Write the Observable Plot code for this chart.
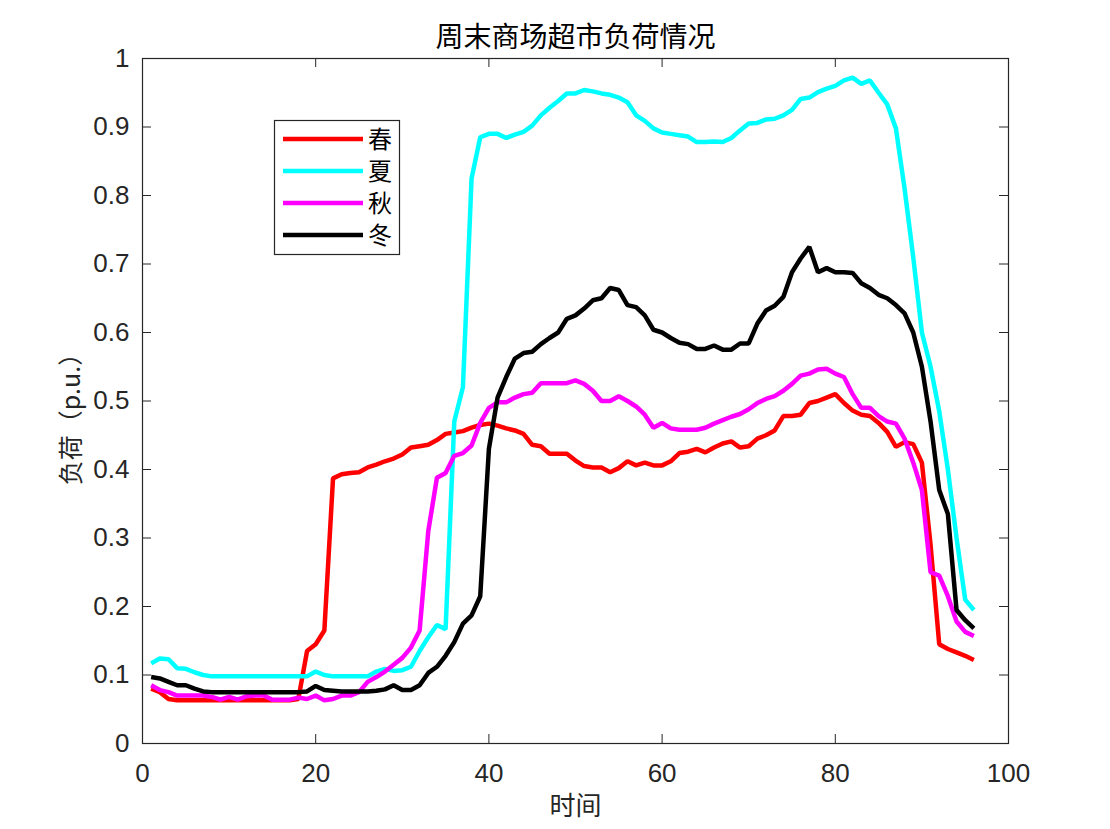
<!DOCTYPE html>
<html>
<head>
<meta charset="utf-8">
<script src="https://cdn.jsdelivr.net/npm/d3@7"></script>
<script src="https://cdn.jsdelivr.net/npm/@observablehq/plot@0.6"></script>
<style>
  html, body { margin: 0; padding: 0; background: #ffffff; overflow: hidden; }
</style>
</head>
<body>
<div id="chart"></div>
<script>
// ---- data ----
const chartTitle = "周末商场超市负荷情况";
const xLabel = "时间";
const yLabel = "负荷（p.u.）";
const seasons = ["春", "夏", "秋", "冬"];
const seasonColors = ["#ff0000", "#00ffff", "#ff00ff", "#000000"];
const xTicks = [0, 20, 40, 60, 80, 100];
const yTicks = [0, 0.1, 0.2, 0.3, 0.4, 0.5, 0.6, 0.7, 0.8, 0.9, 1];
const timeSlots = d3.range(1, 97); // 96 sampling points

const spring = [
  0.080, 0.075, 0.065, 0.063, 0.063, 0.063, 0.063, 0.063, 0.063, 0.063,
  0.063, 0.063, 0.063, 0.063, 0.063, 0.063, 0.063, 0.065, 0.135, 0.145,
  0.165, 0.387, 0.393, 0.395, 0.396, 0.403, 0.407, 0.412, 0.416, 0.422,
  0.432, 0.434, 0.436, 0.443, 0.452, 0.454, 0.456, 0.461, 0.465, 0.467,
  0.464, 0.460, 0.457, 0.452, 0.436, 0.434, 0.423, 0.423, 0.423, 0.413,
  0.405, 0.403, 0.403, 0.396, 0.402, 0.412, 0.406, 0.410, 0.406, 0.406,
  0.412, 0.424, 0.426, 0.430, 0.425, 0.432, 0.438, 0.441, 0.432, 0.434,
  0.445, 0.450, 0.457, 0.478, 0.478, 0.480, 0.497, 0.500, 0.505, 0.510,
  0.497, 0.486, 0.480, 0.478, 0.468, 0.455, 0.433, 0.440, 0.437, 0.410,
  0.290, 0.145, 0.138, 0.133, 0.128, 0.122
];
const summer = [
  0.117, 0.124, 0.123, 0.110, 0.109, 0.104, 0.100, 0.098, 0.098, 0.098,
  0.098, 0.098, 0.098, 0.098, 0.098, 0.098, 0.098, 0.098, 0.098, 0.105,
  0.100, 0.098, 0.098, 0.098, 0.098, 0.098, 0.105, 0.109, 0.106, 0.107,
  0.112, 0.135, 0.155, 0.173, 0.167, 0.470, 0.520, 0.825, 0.885, 0.890,
  0.890, 0.884, 0.889, 0.893, 0.902, 0.917, 0.928, 0.938, 0.949, 0.949,
  0.954, 0.952, 0.949, 0.947, 0.943, 0.936, 0.917, 0.909, 0.898, 0.892,
  0.890, 0.888, 0.886, 0.878, 0.878, 0.879, 0.878, 0.884, 0.895, 0.905,
  0.906, 0.911, 0.912, 0.917, 0.925, 0.941, 0.943, 0.951, 0.956, 0.960,
  0.968, 0.972, 0.963, 0.968, 0.950, 0.933, 0.898, 0.810, 0.710, 0.600,
  0.550, 0.485, 0.400, 0.300, 0.210, 0.195
];
const autumn = [
  0.085, 0.078, 0.075, 0.070, 0.070, 0.070, 0.070, 0.068, 0.064, 0.068,
  0.064, 0.069, 0.070, 0.070, 0.064, 0.064, 0.064, 0.067, 0.065, 0.070,
  0.063, 0.065, 0.070, 0.070, 0.075, 0.090, 0.097, 0.105, 0.115, 0.125,
  0.140, 0.165, 0.310, 0.388, 0.395, 0.420, 0.424, 0.435, 0.468, 0.490,
  0.498, 0.498, 0.505, 0.510, 0.512, 0.526, 0.526, 0.526, 0.526, 0.530,
  0.525, 0.515, 0.500, 0.500, 0.507, 0.500, 0.492, 0.480, 0.461, 0.468,
  0.460, 0.458, 0.458, 0.458, 0.461, 0.467, 0.472, 0.477, 0.481, 0.488,
  0.497, 0.503, 0.507, 0.515, 0.525, 0.537, 0.540, 0.546, 0.547, 0.540,
  0.535, 0.510, 0.490, 0.490, 0.478, 0.470, 0.467, 0.445, 0.410, 0.370,
  0.250, 0.245, 0.215, 0.178, 0.163, 0.157
];
const winter = [
  0.097, 0.095, 0.090, 0.085, 0.085, 0.080, 0.076, 0.075, 0.075, 0.075,
  0.075, 0.075, 0.075, 0.075, 0.075, 0.075, 0.075, 0.075, 0.076, 0.084,
  0.078, 0.077, 0.076, 0.076, 0.076, 0.076, 0.077, 0.079, 0.085, 0.078,
  0.078, 0.085, 0.103, 0.112, 0.128, 0.148, 0.175, 0.187, 0.215, 0.430,
  0.505, 0.535, 0.562, 0.570, 0.572, 0.583, 0.592, 0.600, 0.620, 0.625,
  0.635, 0.647, 0.650, 0.665, 0.662, 0.640, 0.637, 0.625, 0.604, 0.600,
  0.592, 0.585, 0.583, 0.576, 0.576, 0.581, 0.575, 0.575, 0.584, 0.584,
  0.613, 0.632, 0.639, 0.652, 0.688, 0.708, 0.725, 0.688, 0.694, 0.688,
  0.688, 0.687, 0.672, 0.665, 0.655, 0.650, 0.640, 0.628, 0.600, 0.550,
  0.470, 0.370, 0.335, 0.195, 0.180, 0.168
];
const seriesValues = [spring, summer, autumn, winter];

// ---- layout ----
const W = 1110, H = 829;
const mTop = 58, mRight = 102, mBottom = 86, mLeft = 142;
const innerW = W - mLeft - mRight, innerH = H - mTop - mBottom;
const tickLen = 9;
const axisColor = "#262626";
const cjkFont = "'Noto Sans CJK SC', 'Noto Sans', sans-serif";
const latinFont = "'Liberation Sans', Arial, Helvetica, sans-serif";

const rows = seasons.map((s, k) => seriesValues[k].map((v, i) => ({t: timeSlots[i], v, season: s})));

const chart = Plot.plot({
  width: W, height: H,
  marginTop: mTop, marginRight: mRight, marginBottom: mBottom, marginLeft: mLeft,
  style: {background: "#ffffff", fontFamily: latinFont, color: axisColor, overflow: "visible"},
  x: {domain: [0, 100]},
  y: {domain: [0, 1]},
  color: {domain: seasons, range: seasonColors},
  marks: [
    // lines
    ...rows.map(r => Plot.line(r, {x: "t", y: "v", stroke: "season", strokeWidth: 4.5, strokeLinejoin: "miter", strokeLinecap: "butt"})),
    // frame + inward ticks
    Plot.frame({stroke: axisColor, strokeWidth: 1.2}),
    Plot.tickX(xTicks, {x: d => d, stroke: axisColor, insetTop: innerH - tickLen}),
    Plot.tickX(xTicks, {x: d => d, stroke: axisColor, insetBottom: innerH - tickLen}),
    Plot.tickY(yTicks, {y: d => d, stroke: axisColor, insetRight: innerW - tickLen}),
    Plot.tickY(yTicks, {y: d => d, stroke: axisColor, insetLeft: innerW - tickLen}),
    // tick labels
    Plot.axisX(xTicks, {anchor: "bottom", tickSize: 0, tickPadding: 20, label: null, fontSize: 26, fill: axisColor, tickFormat: d => String(d)}),
    Plot.axisY(yTicks, {anchor: "left", tickSize: 0, tickPadding: 13, label: null, fontSize: 26, fill: axisColor, tickFormat: d => String(d)}),
    // title and axis labels
    Plot.text([chartTitle], {text: d => d, frameAnchor: "top", lineAnchor: "middle", textAnchor: "middle", dy: -20, fontSize: 28, fontFamily: cjkFont, fill: "#000000"}),
    Plot.text([xLabel], {text: d => d, frameAnchor: "bottom", lineAnchor: "middle", textAnchor: "middle", dy: 63, fontSize: 26, fontFamily: cjkFont, fill: axisColor}),
    Plot.text([yLabel], {text: d => d, frameAnchor: "left", lineAnchor: "middle", textAnchor: "middle", dx: -71, dy: 12, rotate: -90, fontSize: 25, fontFamily: cjkFont, fill: axisColor})
  ]
});

// ---- legend (inside axes, upper left) ----
const svg = d3.select(chart);
const lg = svg.append("g").attr("class", "legend");
const box = {x: 274.5, y: 120.5, w: 125, h: 134};
lg.append("rect").attr("x", box.x).attr("y", box.y).attr("width", box.w).attr("height", box.h)
  .attr("fill", "#ffffff").attr("stroke", axisColor).attr("stroke-width", 1.2);
seasons.forEach((s, k) => {
  const cy = 139 + k * 32;
  lg.append("line").attr("x1", 283).attr("x2", 363).attr("y1", cy).attr("y2", cy)
    .attr("stroke", seasonColors[k]).attr("stroke-width", 4.5);
  lg.append("text").attr("x", 368).attr("y", cy).attr("dy", "0.36em")
    .attr("text-anchor", "start")
    .attr("font-family", cjkFont).attr("font-size", 24).attr("fill", "#000000").text(s);
});

document.getElementById("chart").appendChild(chart);
</script>
</body>
</html>
